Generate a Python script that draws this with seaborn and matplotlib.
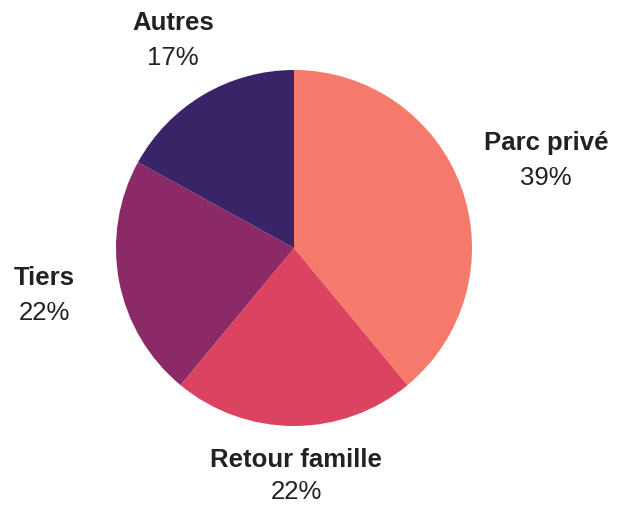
import seaborn as sns
import matplotlib
matplotlib.use("Agg")
import matplotlib.pyplot as plt

# data
categories = ["Parc privé", "Retour famille", "Tiers", "Autres"]
shares = [39, 22, 22, 17]
colors = ["#F57A6C", "#DC4360", "#8B2A66", "#3A2468"]

# label anchors in pixels (x, y from top) and gap to the percent line - layout only
label_pos = [(546, 143), (296, 460), (44, 278), (173, 23)]
pct_gap = [35, 32, 35, 35]

W, H = 627, 506

sns.set_theme(style="white")
plt.rcParams['font.family'] = ['Liberation Sans', 'DejaVu Sans']

fig = plt.figure(figsize=(W / 100, H / 100), dpi=100)
ax = fig.add_axes([0, 0, 1, 1])

ax.pie(shares, colors=colors, startangle=90, counterclock=False,
       center=(294, H - 249), radius=178, frame=True,
       wedgeprops=dict(linewidth=0))
ax.set_xlim(0, W)
ax.set_ylim(0, H)
ax.set_aspect("equal")
ax.axis("off")

for name, val, (x, y), gap in zip(categories, shares, label_pos, pct_gap):
    ax.text(x, H - y, name, ha="center", va="center", fontsize=18.5,
            fontweight="bold", color="#222222")
    ax.text(x, H - y - gap, "%d%%" % val, ha="center", va="center",
            fontsize=18.5, color="#222222")

fig.savefig("out.png", dpi=100, facecolor="white")
plt.close('all')
